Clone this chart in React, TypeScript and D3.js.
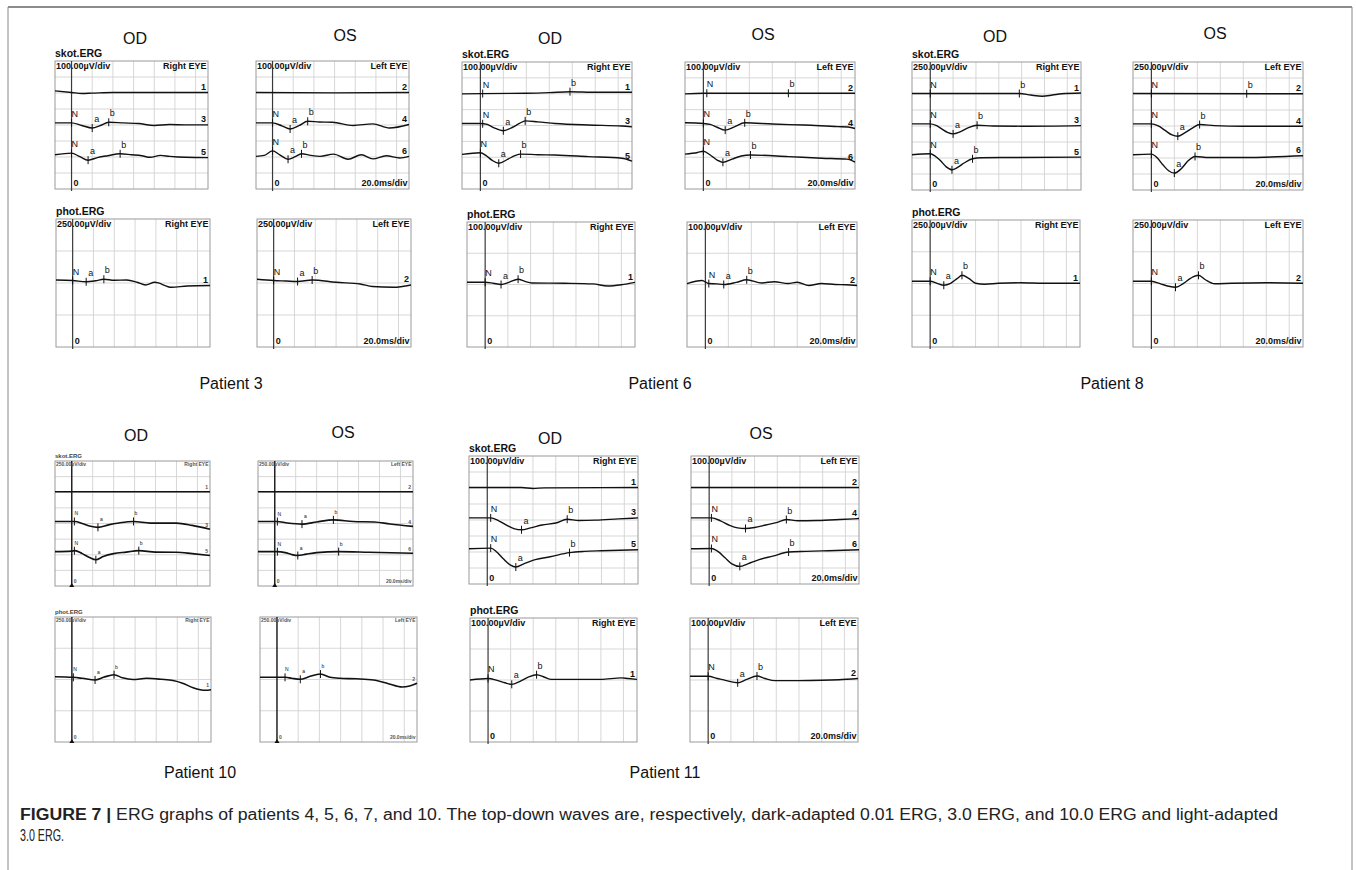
import React from "react";
import * as d3 from "d3";

type Pt = [number, number];
type Marks = (number | null)[];

// ---------- data ----------
const TIME_MS: [number, number] = [-16, 132];
const GRID_MS = [20, 40, 60, 80, 100, 120];
const PATIENTS = ["Patient 3", "Patient 6", "Patient 8", "Patient 10", "Patient 11"];
const SKOT_UV_PER_DIV = [100, 100, 250, 250, 100];
const PHOT_UV_PER_DIV = [250, 100, 250, 250, 100];
const TRACE_NO = { skotOD: ["1", "3", "5"], skotOS: ["2", "4", "6"], photOD: ["1"], photOS: ["2"] };
const MARK_NAMES = ["N", "a", "b"];

// Patient 3
const p3SkotOD: Pt[][] = [
  [[-16, 5], [0, 0], [10, -3], [20, -2], [40, 0], [132, 0]],
  [[-16, 0], [0, 0], [10, -8], [20, -16], [28, -8], [36, 2], [50, 0], [65, -2], [80, -8], [95, -5], [110, -6], [132, -6]],
  [[-16, -3], [0, 2], [8, -9], [16, -20], [25, -12], [35, -6], [47, 0], [58, -3], [68, -6], [76, -11], [86, -5], [95, -8], [110, -11], [132, -12]],
];
const p3SkotODMarks: Marks[] = [[null, null, null], [0, 20, 36], [0, 16, 47]];
const p3SkotOS: Pt[][] = [
  [[-16, 0], [60, -1], [132, 0]],
  [[-16, 0], [0, 0], [9, -9], [17, -19], [26, -8], [34, 5], [45, 3], [58, 2], [78, -8], [97, -3], [113, -16], [132, -5]],
  [[-16, -8], [-8, -5], [0, 9], [7, -3], [15, -17], [22, -9], [28, 0], [37, -5], [46, -8], [59, -1], [73, -17], [86, -3], [97, -16], [110, -6], [123, -13], [132, -8]],
];
const p3SkotOSMarks: Marks[] = [[null, null, null], [0, 17, 34], [0, 15, 28]];
const p3PhotOD: Pt[][] = [[[-16, 6], [0, 2], [13, -8], [22, 0], [30, 12], [40, 4], [52, 6], [62, -12], [70, -33], [79, -12], [95, -51], [110, -41], [132, -37]]];
const p3PhotODMarks: Marks[] = [[0, 13, 30]];
const p3PhotOS: Pt[][] = [[[-16, 12], [0, 2], [12, -2], [23, -6], [37, 6], [60, -12], [83, -25], [95, -45], [115, -51], [132, -33]]];
const p3PhotOSMarks: Marks[] = [[0, 23, 37]];

// Patient 6
const p6SkotOD: Pt[][] = [
  [[-16, -2], [0, -1], [40, 0], [60, 2], [78, 5], [100, 3], [132, 3]],
  [[-16, 0], [0, 0], [6, -3], [12, -14], [20, -23], [28, -12], [34, 0], [39, 8], [50, 5], [65, 0], [94, -5], [123, -8], [132, -11]],
  [[-16, -1], [0, 4], [5, -5], [10, -19], [16, -29], [24, -16], [30, -5], [35, 0], [50, -2], [65, -3], [94, -8], [123, -13], [132, -22]],
];
const p6SkotODMarks: Marks[] = [[2, null, 78], [2, 20, 39], [0, 16, 35]];
const p6SkotOS: Pt[][] = [
  [[-16, -2], [0, 0], [132, 0]],
  [[-16, 2], [0, 0], [6, -3], [12, -12], [19, -21], [27, -11], [36, 2], [60, -2], [88, -5], [117, -10], [126, -11], [132, -16]],
  [[-16, 0], [-5, 5], [0, 9], [6, -3], [12, -19], [17, -26], [25, -16], [33, -6], [41, -3], [74, -8], [103, -13], [125, -16], [132, -25]],
];
const p6SkotOSMarks: Marks[] = [[3, null, 74], [0, 19, 36], [0, 17, 41]];
const p6PhotOD: Pt[][] = [[[-16, 0], [0, 0], [7, -3], [14, -7], [21, 0], [29, 10], [35, 3], [41, -2], [70, -3], [95, -5], [108, -12], [120, -8], [132, 0]]];
const p6PhotODMarks: Marks[] = [[0, 14, 29]];
const p6PhotOS: Pt[][] = [[[-16, -4], [-3, 6], [3, -4], [10, -5], [16, -7], [27, 0], [36, 8], [49, -2], [60, 2], [72, -4], [80, 0], [90, -10], [101, -4], [113, -7], [122, -8], [132, -10]]];
const p6PhotOSMarks: Marks[] = [[3, 16, 36]];

// Patient 8
const p8SkotOD: Pt[][] = [
  [[-16, 0], [0, 0], [78, 0], [88, -12], [98, -21], [107, -12], [115, -2], [132, 4]],
  [[-16, 0], [0, 0], [5, -12], [10, -39], [15, -66], [20, -78], [26, -62], [33, -31], [41, -10], [55, -16], [80, -18], [132, -13]],
  [[-16, 0], [0, 8], [4, -8], [9, -47], [14, -94], [19, -117], [24, -98], [30, -62], [37, -31], [45, -23], [70, -21], [132, -18]],
];
const p8SkotODMarks: Marks[] = [[0, null, 78], [0, 20, 41], [0, 19, 37]];
const p8SkotOS: Pt[][] = [
  [[-16, 0], [132, -2]],
  [[-16, 0], [0, 0], [6, -16], [12, -51], [18, -86], [23, -96], [29, -70], [36, -31], [42, -5], [55, -13], [80, -18], [132, -18]],
  [[-16, 0], [0, 5], [5, -23], [10, -78], [15, -125], [20, -143], [26, -109], [32, -47], [38, -13], [50, -21], [80, -21], [132, -8]],
];
const p8SkotOSMarks: Marks[] = [[0, null, 83], [0, 23, 42], [0, 20, 38]];
const p8PhotOD: Pt[][] = [[[-16, 0], [0, 0], [6, -16], [12, -31], [18, -16], [24, 23], [28, 47], [34, 23], [40, -16], [48, -23], [60, -16], [80, -12], [100, -16], [132, -16]]];
const p8PhotODMarks: Marks[] = [[0, 12, 28]];
const p8PhotOS: Pt[][] = [[[-16, 0], [0, 0], [8, -20], [15, -39], [21, -47], [28, -16], [34, 23], [41, 47], [47, 12], [55, -20], [70, -16], [100, -12], [132, -16]]];
const p8PhotOSMarks: Marks[] = [[0, 21, 41]];

// Patient 10
const p10SkotOD: Pt[][] = [
  [[-16, 0], [132, 0]],
  [[-16, 0], [3, 0], [10, -16], [18, -39], [25, -47], [35, -27], [45, -12], [59, 0], [75, -13], [100, -13], [115, -31], [132, -62]],
  [[-16, 0], [0, 4], [3, 8], [10, -16], [17, -47], [23, -65], [30, -39], [40, -16], [52, -4], [64, 8], [80, -4], [100, -5], [115, -16], [132, -31]],
];
const p10SkotODMarks: Marks[] = [[null, null, null], [2.5, 25, 59], [2.5, 23, 64]];
const p10SkotOS: Pt[][] = [
  [[-16, 0], [132, 0]],
  [[-16, 0], [2, 0], [12, -12], [26, -21], [40, -4], [56, 13], [75, 0], [95, -4], [110, -20], [132, -39]],
  [[-16, 0], [2, 0], [10, -8], [16, -23], [22, -31], [30, -20], [40, -8], [61, 0], [90, -5], [132, -13]],
];
const p10SkotOSMarks: Marks[] = [[null, null, null], [2.5, 26, 56], [2.5, 22, 61]];
const p10PhotOD: Pt[][] = [[[-16, 5], [1, 0], [10, -8], [22, -21], [30, 0], [40, 21], [48, -4], [58, -18], [71, -8], [85, -16], [96, -26], [105, -47], [115, -83], [127, -104], [132, -99]]];
const p10PhotODMarks: Marks[] = [[1.4, 22, 40]];
const p10PhotOS: Pt[][] = [[[-16, 0], [8, 0], [14, -8], [22, -16], [30, 4], [41, 26], [50, 0], [59, -8], [75, -12], [91, -21], [105, -51], [118, -78], [125, -70], [132, -47]]];
const p10PhotOSMarks: Marks[] = [[7.6, 22, 41]];

// Patient 11
const p11SkotOD: Pt[][] = [
  [[-16, 0], [30, 0], [40, -3], [50, -1], [132, 0]],
  [[-16, 0], [3, 0], [10, -9], [18, -25], [24, -34], [30, -37], [38, -31], [48, -22], [60, -16], [70, -4], [80, -8], [95, -7], [115, -3], [132, 0]],
  [[-16, 0], [3, 2], [8, -9], [14, -31], [20, -50], [25, -57], [32, -47], [42, -34], [55, -25], [72, -12], [85, -8], [100, -6], [132, -3]],
];
const p11SkotODMarks: Marks[] = [[null, null, null], [3, 30, 70], [3, 25, 72]];
const p11SkotOS: Pt[][] = [
  [[-16, 0], [132, 0]],
  [[-16, 0], [2, 0], [10, -9], [18, -23], [25, -31], [32, -33], [40, -30], [50, -22], [60, -14], [68, -5], [78, -9], [95, -8], [115, -5], [132, -2]],
  [[-16, 0], [2, 1], [8, -9], [14, -28], [20, -47], [27, -55], [34, -47], [44, -34], [56, -23], [70, -10], [85, -8], [105, -6], [132, -3]],
];
const p11SkotOSMarks: Marks[] = [[null, null, null], [2, 32, 68], [2, 27, 70]];
const p11PhotOD: Pt[][] = [[[-16, -7], [0, -2], [8, -8], [15, -16], [21, -21], [28, -12], [36, 3], [43, 10], [50, 2], [56, -5], [80, -5], [100, -5], [118, 0], [124, -2], [132, -5]]];
const p11PhotODMarks: Marks[] = [[0, 21, 43]];
const p11PhotOS: Pt[][] = [[[-16, 5], [0, 5], [8, -2], [16, -9], [26, -16], [34, -5], [43, 6], [50, -2], [59, -9], [80, -9], [100, -8], [115, -6], [132, -2]]];
const p11PhotOSMarks: Marks[] = [[0, 26, 43]];

const CAPTION_BOLD = "FIGURE 7 | ";
const CAPTION_1 = "ERG graphs of patients 4, 5, 6, 7, and 10. The top-down waves are, respectively, dark-adapted 0.01 ERG, 3.0 ERG, and 10.0 ERG and light-adapted";
const CAPTION_2 = "3.0 ERG.";

// ---------- layout ----------
type Box = [number, number, number, number];
const BOXES: Record<string, Box>[] = [
  { skotOD: [55, 61, 153, 128], skotOS: [256, 61, 153, 128], photOD: [56, 219, 154, 128], photOS: [257, 219, 154, 128] },
  { skotOD: [462, 62, 170, 127], skotOS: [685, 62, 170, 127], photOD: [467, 222, 168, 125], photOS: [687, 222, 170, 125] },
  { skotOD: [912, 62, 169, 128], skotOS: [1133, 62, 170, 128], photOD: [912, 220, 168, 127], photOS: [1133, 220, 170, 127] },
  { skotOD: [55, 461, 155, 125], skotOS: [258, 461, 155, 125], photOD: [55, 617, 156, 125], photOS: [260, 617, 157, 125] },
  { skotOD: [469, 456, 169, 128], skotOS: [691, 456, 168, 128], photOD: [470, 618, 167, 124], photOS: [690, 618, 168, 124] },
];
const TITLE_POS = [
  { od: [135, 44], os: [345, 41] },
  { od: [550, 44], os: [763, 40] },
  { od: [995, 42], os: [1215, 39] },
  { od: [136, 441], os: [343, 438] },
  { od: [550, 444], os: [761, 439] },
];
const LABEL_POS = [[231, 389], [660, 389], [1112, 389], [200, 778], [665, 778]];
const SKOT_BASE_ROWS = [1.97, 3.87, 5.8]; // of 8 rows
const PHOT_BASE_ROWS = [1.93]; // of 4 rows
const MARK_DX = [0, 2, 1];

const DATA = [
  { skotOD: [p3SkotOD, p3SkotODMarks], skotOS: [p3SkotOS, p3SkotOSMarks], photOD: [p3PhotOD, p3PhotODMarks], photOS: [p3PhotOS, p3PhotOSMarks] },
  { skotOD: [p6SkotOD, p6SkotODMarks], skotOS: [p6SkotOS, p6SkotOSMarks], photOD: [p6PhotOD, p6PhotODMarks], photOS: [p6PhotOS, p6PhotOSMarks] },
  { skotOD: [p8SkotOD, p8SkotODMarks], skotOS: [p8SkotOS, p8SkotOSMarks], photOD: [p8PhotOD, p8PhotODMarks], photOS: [p8PhotOS, p8PhotOSMarks] },
  { skotOD: [p10SkotOD, p10SkotODMarks], skotOS: [p10SkotOS, p10SkotOSMarks], photOD: [p10PhotOD, p10PhotODMarks], photOS: [p10PhotOS, p10PhotOSMarks] },
  { skotOD: [p11SkotOD, p11SkotODMarks], skotOS: [p11SkotOS, p11SkotOSMarks], photOD: [p11PhotOD, p11PhotODMarks], photOS: [p11PhotOS, p11PhotOSMarks] },
] as Record<string, [Pt[][], Marks[]]>[];

const FONT = "'Liberation Sans', Arial, Helvetica, sans-serif";

function interp(pts: Pt[], t: number): number {
  for (let i = 0; i < pts.length - 1; i++) {
    const [t0, v0] = pts[i];
    const [t1, v1] = pts[i + 1];
    if (t >= t0 && t <= t1) return v0 + ((v1 - v0) * (t - t0)) / (t1 - t0 || 1);
  }
  return pts[pts.length - 1][1];
}

function Panel(props: { pid: number; kind: "skot" | "phot"; eye: "OD" | "OS" }) {
  const { pid, kind, eye } = props;
  const key = kind + eye;
  const tiny = pid === 3;
  const [x, y, w, h] = BOXES[pid][key];
  const [traces, marks] = DATA[pid][key];
  const uv = kind === "skot" ? SKOT_UV_PER_DIV[pid] : PHOT_UV_PER_DIV[pid];
  const rows = kind === "skot" ? 8 : 4;
  const baseRows = kind === "skot" ? SKOT_BASE_ROWS : PHOT_BASE_ROWS;
  const nums = TRACE_NO[key as keyof typeof TRACE_NO];

  const xs = d3.scaleLinear().domain(TIME_MS).range([x, x + w]);
  const ys = d3.scaleLinear().domain([0, -4 * uv]).range([y, y + h]);
  const x0 = xs(0);

  const fs = tiny ? 5 : 9;
  const txtCol = tiny ? "#555" : "#111";
  const markFs = tiny ? 5 : 9;

  const hLines = d3.range(1, rows).map((k) => y + (k * h) / rows);

  return (
    <g>
      {GRID_MS.map((t) => (
        <line key={"v" + t} x1={xs(t)} x2={xs(t)} y1={y} y2={y + h} stroke="#d2d2d2" strokeWidth={0.9} />
      ))}
      {hLines.map((yy, i) => (
        <line key={"h" + i} x1={x} x2={x + w} y1={yy} y2={yy} stroke="#d2d2d2" strokeWidth={0.9} />
      ))}
      <rect x={x} y={y} width={w} height={h} fill="none" stroke="#9a9a9a" strokeWidth={1} />
      <line x1={x0} x2={x0} y1={y} y2={y + h + (tiny ? 1 : 2)} stroke={tiny ? "#222" : "#3a3a3a"} strokeWidth={tiny ? 1.5 : 1.2} />
      {tiny && <path d={`M${x0 - 2.5},${y + h + 1} L${x0 + 2.5},${y + h + 1} L${x0},${y + h - 3} Z`} fill="#111" />}
      <text x={x + 1} y={y + (tiny ? 5 : 8)} fontSize={fs} fontWeight="bold" fill={txtCol}>
        {uv.toFixed(2) + "µV/div"}
      </text>
      <text x={x + w - 1.5} y={y + (tiny ? 5 : 8)} fontSize={fs} fontWeight="bold" fill={txtCol} textAnchor="end">
        {eye === "OD" ? "Right EYE" : "Left EYE"}
      </text>
      <text x={x0 + 2} y={y + h - 3} fontSize={fs} fontWeight="bold" fill={txtCol}>
        0
      </text>
      {eye === "OS" && (
        <text x={x + w - 1.5} y={y + h - 3} fontSize={fs} fontWeight="bold" fill={txtCol} textAnchor="end">
          20.0ms/div
        </text>
      )}
      {traces.map((pts, i) => {
        const base = -(baseRows[i] / rows) * 4 * uv;
        const line = d3
          .line<Pt>()
          .x((d) => xs(d[0]))
          .y((d) => ys(base + d[1]))
          .curve(d3.curveMonotoneX);
        const endY = ys(base + pts[pts.length - 1][1]);
        return (
          <g key={"t" + i}>
            <path d={line(pts) || ""} fill="none" stroke="#111" strokeWidth={tiny ? 1.6 : 1.4} strokeLinejoin="round" />
            <text x={x + w - 2} y={endY - 2.5} fontSize={fs} fontWeight="bold" fill={txtCol} textAnchor="end">
              {nums[i]}
            </text>
            {marks[i].map((mt, j) => {
              if (mt === null) return null;
              const mx = xs(mt);
              const my = ys(base + interp(pts, mt));
              return (
                <g key={"m" + j}>
                  <line x1={mx} x2={mx} y1={my - 4} y2={my + 4} stroke="#111" strokeWidth={1} />
                  <text x={mx + MARK_DX[j]} y={my - 6} fontSize={markFs} fill="#111">
                    {MARK_NAMES[j]}
                  </text>
                </g>
              );
            })}
          </g>
        );
      })}
    </g>
  );
}

export default function App() {
  return (
    <svg
      width={1356}
      height={870}
      viewBox="0 0 1356 870"
      style={{ position: "absolute", left: 0, top: 0, background: "#fff" }}
      fontFamily={FONT}
    >
      <rect x={0} y={0} width={1356} height={870} fill="#fff" />
      <line x1={8} x2={1352} y1={7} y2={7} stroke="#666" strokeWidth={1.4} />
      <line x1={8} x2={8} y1={7} y2={870} stroke="#888" strokeWidth={1} />
      <line x1={1352} x2={1352} y1={7} y2={870} stroke="#888" strokeWidth={1} />

      {PATIENTS.map((name, pid) => {
        const tiny = pid === 3;
        const sk = BOXES[pid].skotOD;
        const ph = BOXES[pid].photOD;
        return (
          <g key={name}>
            <text x={TITLE_POS[pid].od[0]} y={TITLE_POS[pid].od[1]} fontSize={16} textAnchor="middle" fill="#111">
              OD
            </text>
            <text x={TITLE_POS[pid].os[0]} y={TITLE_POS[pid].os[1]} fontSize={16} textAnchor="middle" fill="#111">
              OS
            </text>
            <text x={sk[0]} y={sk[1] - (tiny ? 3 : 4)} fontSize={tiny ? 6 : 10.5} fontWeight="bold" fill={tiny ? "#444" : "#111"}>
              skot.ERG
            </text>
            <text x={ph[0]} y={ph[1] - (tiny ? 3 : 4)} fontSize={tiny ? 6 : 10.5} fontWeight="bold" fill={tiny ? "#444" : "#111"}>
              phot.ERG
            </text>
            <Panel pid={pid} kind="skot" eye="OD" />
            <Panel pid={pid} kind="skot" eye="OS" />
            <Panel pid={pid} kind="phot" eye="OD" />
            <Panel pid={pid} kind="phot" eye="OS" />
            <text x={LABEL_POS[pid][0]} y={LABEL_POS[pid][1]} fontSize={16} textAnchor="middle" fill="#111">
              {name}
            </text>
          </g>
        );
      })}

      <text x={20} y={820} fontSize={16} fill="#222" textLength={1258} lengthAdjust="spacingAndGlyphs">
        <tspan fontWeight="bold">{CAPTION_BOLD}</tspan>
        <tspan>{CAPTION_1}</tspan>
      </text>
      <text x={20} y={841} fontSize={16} fill="#222" textLength={44} lengthAdjust="spacingAndGlyphs">
        {CAPTION_2}
      </text>
    </svg>
  );
}
